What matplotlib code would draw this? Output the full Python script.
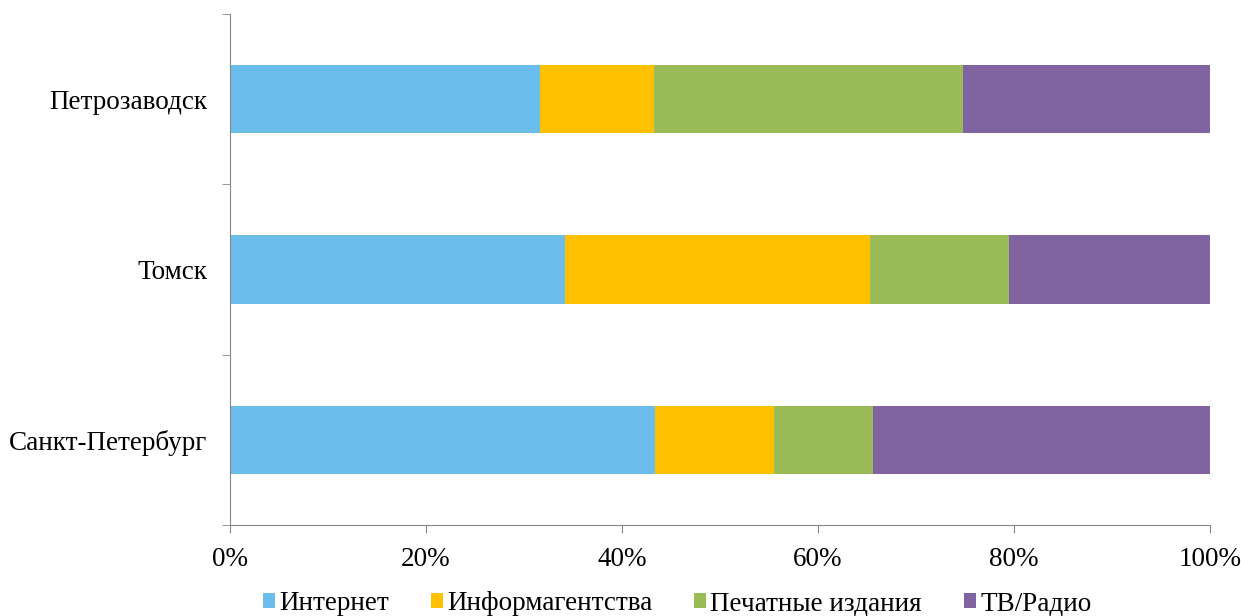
import matplotlib.pyplot as plt
import numpy as np

# data (percent of total for each city)
cities = ['Санкт-Петербург', 'Томск', 'Петрозаводск']
series_names = ['Интернет', 'Информагентства', 'Печатные издания', 'ТВ/Радио']
internet = [43.4, 34.2, 31.6]
agencies = [12.1, 31.1, 11.7]
print_media = [10.1, 14.2, 31.5]
tv_radio = [34.4, 20.5, 25.2]
x_ticks = [0, 20, 40, 60, 80, 100]
x_tick_labels = ['0%', '20%', '40%', '60%', '80%', '100%']

colors = ['#6bbdec', '#ffc000', '#9bbb59', '#8064a2']

plt.rcParams['font.family'] = ['Liberation Serif', 'DejaVu Serif']
fs = 19.5

fig = plt.figure(figsize=(12.41, 6.16), dpi=100)
ax = fig.add_axes([0.1853, 0.1477, 0.7897, 0.8296])

y = np.arange(len(cities))
left = np.zeros(len(cities))
for name, vals, c in zip(series_names, [internet, agencies, print_media, tv_radio], colors):
    ax.barh(y, vals, left=left, height=0.4, color=c, label=name)
    left = left + np.array(vals)

ax.set_xlim(0, 100)
ax.set_ylim(-0.5, 2.5)
ax.set_xticks(x_ticks)
ax.set_xticklabels(x_tick_labels)
ax.set_yticks(y)
ax.set_yticklabels(cities)
ax.set_yticks([-0.5, 0.5, 1.5, 2.5], minor=True)
ax.tick_params(axis='y', which='major', length=0, pad=16, labelsize=fs)
ax.tick_params(axis='y', which='minor', length=6, color='#868686')
ax.tick_params(axis='x', length=6, color='#868686', labelsize=fs, pad=10)

for s in ['top', 'right']:
    ax.spines[s].set_visible(False)
for s in ['left', 'bottom']:
    ax.spines[s].set_color('#868686')

fig.legend(loc='upper center', bbox_to_anchor=(677 / 1241, 0.04), ncol=4, frameon=False,
           fontsize=fs, handlelength=0.45, handleheight=0.5, handletextpad=0.15,
           columnspacing=1.55, borderpad=0, borderaxespad=0)

plt.savefig('out.png', dpi=100)
